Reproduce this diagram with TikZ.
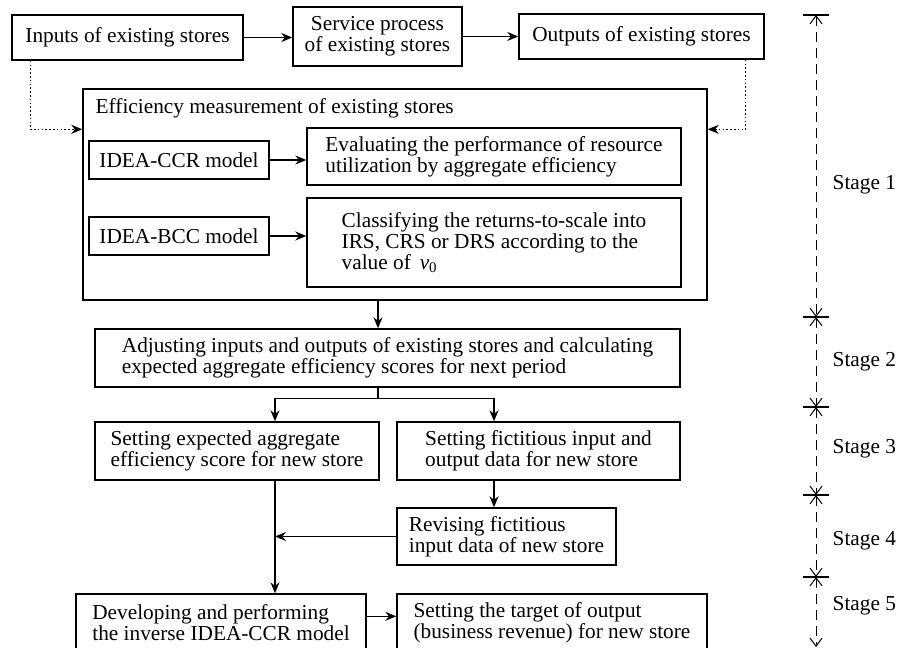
\documentclass[tikz,border=0pt]{standalone}
\usepackage{fontspec}
\setmainfont{Liberation Serif}
\usepackage{tikz}
\usetikzlibrary{arrows.meta}
\newcommand{\flowFontSize}[0]{21.3}
\newcommand{\flowLineWidth}[0]{1.4pt}

\begin{document}
\begin{tikzpicture}[x=1pt, y=-1pt, line width=\flowLineWidth,
    font=\fontsize{\flowFontSize}{21}\selectfont]
  \tikzset{flowbox/.style={draw, align=left, inner sep=0pt},
    flowarrow/.style={-{Stealth[length=11pt,width=9pt]}},
    feedback/.style={flowarrow, dash pattern=on 1.6pt off 2.2pt},
    stagedim/.style={{Straight Barb[length=8pt,width=12pt]}-{Straight Barb[length=8pt,width=12pt]},
      line width=1pt, dash pattern=on 10pt off 6pt}}
  \clip (0,0) rectangle (911,648);
  % existing stores
  \node[flowbox, minimum width=231pt, minimum height=45pt] (inputs) at (127.5,37.5) {Inputs of existing stores};
  \node[flowbox, align=center, minimum width=169pt, minimum height=59pt] (service) at (377.5,36.5) {Service process\\of existing stores};
  \node[flowbox, minimum width=245pt, minimum height=45pt] (outputs) at (641.5,36.5) {Outputs of existing stores};
  % stage 1
  \node[flowbox, minimum width=624pt, minimum height=211pt] (efficiency) at (395,194.5) {};
  \node[anchor=west, inner sep=0pt] (efficiency-title) at (95,108) {Efficiency measurement of existing stores};
  \node[flowbox, minimum width=180pt, minimum height=38pt] (ccr) at (179,160) {IDEA-CCR model};
  \node[flowbox, minimum width=374pt, minimum height=57pt] (evaluating) at (494,156.5) {Evaluating the performance of resource\\utilization by aggregate efficiency};
  \node[flowbox, minimum width=180pt, minimum height=38pt] (bcc) at (179,236) {IDEA-BCC model};
  \node[flowbox, minimum width=374pt, minimum height=89pt] (classifying) at (494,242.5) {Classifying the returns-to-scale into\\IRS, CRS or DRS according to the\\value of \,\textit{v}\textsubscript{0}};
  % stages 2 to 5
  \node[flowbox, minimum width=585pt, minimum height=58pt] (adjusting) at (387.5,358) {Adjusting inputs and outputs of existing stores and calculating\\expected aggregate efficiency scores for next period};
  \node[flowbox, minimum width=284pt, minimum height=58pt] (expected) at (237,451) {Setting expected aggregate\\efficiency score for new store};
  \node[flowbox, minimum width=283pt, minimum height=58pt] (fictitious) at (538.5,451) {Setting fictitious input and\\output data for new store};
  \node[flowbox, minimum width=219pt, minimum height=57pt] (revising) at (506.5,536.5) {Revising fictitious\\input data of new store};
  \node[flowbox, minimum width=290pt, minimum height=58pt] (developing) at (221,623) {Developing and performing\\the inverse IDEA-CCR model};
  \node[flowbox, minimum width=310pt, minimum height=58pt] (target) at (552,623) {Setting the target of output\\(business revenue) for new store};

  \coordinate (efficiency-in) at ([yshift=-41pt]efficiency.north west);
  \coordinate (efficiency-out) at ([yshift=-41pt]efficiency.north east);
  \coordinate (adjusting-in) at ([xshift=-9.5pt]adjusting.north);
  \coordinate (expected-in) at ([xshift=38pt]expected.north);
  \coordinate (fictitious-in) at ([xshift=-44.5pt]fictitious.north);
  \coordinate (developing-out) at ([yshift=-23pt]developing.north east);

  \draw[flowarrow] (inputs.east) -- (inputs.east -| service.west);
  \draw[flowarrow] (service.east) -- (service.east -| outputs.west);
  \draw[feedback] ([xshift=19pt]inputs.south west) |- (efficiency-in);
  \draw[feedback] ([xshift=-19pt]outputs.south east) |- (efficiency-out);
  \draw[flowarrow] (ccr.east) -- (ccr.east -| evaluating.west);
  \draw[flowarrow] (bcc.east) -- (bcc.east -| classifying.west);
  \draw[flowarrow] (efficiency.south -| adjusting-in) -- (adjusting-in);
  \draw[flowarrow] (adjusting.south -| adjusting-in) -- ++(0,11) -| (expected-in);
  \draw[flowarrow] (adjusting.south -| adjusting-in) -- ++(0,11) -| (fictitious-in);
  \draw[flowarrow] (fictitious.south -| fictitious-in) -- (revising.north -| fictitious-in);
  \draw[flowarrow] (revising.west) -- (revising.west -| expected-in);
  \draw[flowarrow] (expected.south -| expected-in) -- (developing.north -| expected-in);
  \draw[flowarrow] (developing-out) -- (developing-out -| target.west);

  % stage scale
  \coordinate (stage-0) at (816,15);
  \coordinate (stage-1) at (816,317);
  \coordinate (stage-2) at (816,407);
  \coordinate (stage-3) at (816,495);
  \coordinate (stage-4) at (816,577);
  \coordinate (stage-5) at (816,647);
  \draw[stagedim] (stage-0) -- (stage-1);
  \draw[stagedim] (stage-1) -- (stage-2);
  \draw[stagedim] (stage-2) -- (stage-3);
  \draw[stagedim] (stage-3) -- (stage-4);
  \draw[stagedim] (stage-4) -- (stage-5);
  \draw (stage-0) +(-13,0) -- +(13,0);
  \draw (stage-1) +(-13,0) -- +(13,0);
  \draw (stage-2) +(-13,0) -- +(13,0);
  \draw (stage-3) +(-13,0) -- +(13,0);
  \draw (stage-4) +(-13,0) -- +(13,0);
  \node[anchor=west, inner sep=0pt] (stage1-label) at (832,185) {Stage 1};
  \node[anchor=west, inner sep=0pt] (stage2-label) at (832,362) {Stage 2};
  \node[anchor=west, inner sep=0pt] (stage3-label) at (832,449) {Stage 3};
  \node[anchor=west, inner sep=0pt] (stage4-label) at (832,541) {Stage 4};
  \node[anchor=west, inner sep=0pt] (stage5-label) at (832,606) {Stage 5};
\end{tikzpicture}
\end{document}
